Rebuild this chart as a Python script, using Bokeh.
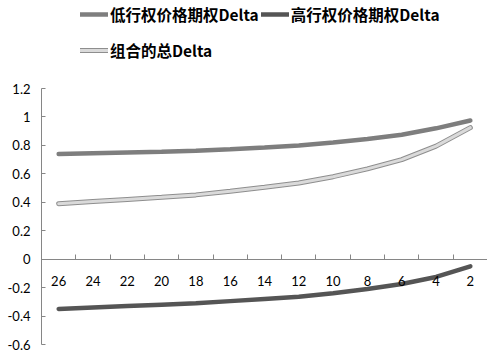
from bokeh.plotting import figure
from bokeh.models import (Range1d, LinearAxis, FixedTicker, Legend, LegendItem,
                          CustomJSTickFormatter)
from bokeh.embed import file_html
from bokeh.resources import INLINE

categories = ["26", "24", "22", "20", "18", "16", "14", "12", "10", "8", "6", "4", "2"]
low_delta = [0.74, 0.745, 0.75, 0.755, 0.762, 0.772, 0.785, 0.80, 0.82, 0.845, 0.875, 0.92, 0.975]
high_delta = [-0.35, -0.34, -0.33, -0.32, -0.31, -0.295, -0.28, -0.265, -0.24, -0.21, -0.175, -0.125, -0.05]
total_delta = [0.39, 0.405, 0.42, 0.435, 0.452, 0.477, 0.505, 0.535, 0.58, 0.635, 0.70, 0.795, 0.925]
y_ticks = [-0.6, -0.4, -0.2, 0, 0.2, 0.4, 0.6, 0.8, 1.0, 1.2]
series_names = ["低行权价格期权Delta", "高行权价格期权Delta", "组合的总Delta"]

x = list(range(len(categories)))
n = len(categories)

AXIS_COLOR = "#868686"
TICK_FONT = "Lato"

# layout (pixels): the plotting area of the axes spans 256 px vertically, the legend
# occupies the 88 px above it inside the same frame
W, H = 487, 361
AXIS_PX, TOP_PX, BOTTOM_PX, LEFT_PX = 256, 88, 17, 41
y_lo, y_hi = y_ticks[0], y_ticks[-1]
y_top = y_hi + (y_hi - y_lo) * TOP_PX / AXIS_PX

p = figure(width=W, height=H, output_backend="svg", toolbar_location=None,
           x_range=Range1d(-0.5, n - 0.5), y_range=Range1d(y_lo, y_top),
           x_axis_location=None,
           min_border_left=LEFT_PX, min_border_right=0, min_border_top=0,
           min_border_bottom=BOTTOM_PX)
p.outline_line_color = None
p.grid.grid_line_color = None
p.background_fill_color = "white"
p.border_fill_color = "white"

# y axis
ya = p.yaxis[0]
ya.bounds = (y_lo, y_hi)
ya.ticker = FixedTicker(ticks=y_ticks)
ya.formatter = CustomJSTickFormatter(code="return String(Math.round(tick*10)/10)")
ya.axis_line_color = AXIS_COLOR
ya.major_tick_line_color = AXIS_COLOR
ya.major_tick_in = 4
ya.major_tick_out = 0
ya.minor_tick_line_color = None
ya.major_label_text_font = TICK_FONT
ya.major_label_text_font_size = "13px"
ya.major_label_text_color = "#000000"
ya.major_label_standoff = 11

# x axis: line and ticks between categories, crossing at y = 0
tick_axis = LinearAxis(fixed_location=0,
                       ticker=FixedTicker(ticks=[i + 0.5 for i in range(n - 1)]),
                       formatter=CustomJSTickFormatter(code="return ''"),
                       axis_line_color=AXIS_COLOR, major_tick_line_color=AXIS_COLOR,
                       major_tick_in=5, major_tick_out=0, minor_tick_line_color=None)
p.add_layout(tick_axis, "below")

label_axis = LinearAxis(fixed_location=0, ticker=FixedTicker(ticks=x),
                        major_label_overrides={i: c for i, c in zip(x, categories)},
                        axis_line_color=None, major_tick_line_color=None,
                        major_tick_in=0, major_tick_out=0, minor_tick_line_color=None,
                        major_label_standoff=17,
                        major_label_text_font=TICK_FONT,
                        major_label_text_font_size="13px",
                        major_label_text_color="#000000")
p.add_layout(label_axis, "below")

r_low = p.line(x, low_delta, line_color="#7e7e7e", line_width=4.5, line_cap="round")
r_high = p.line(x, high_delta, line_color="#555555", line_width=4.5, line_cap="round")
r_tot_edge = p.line(x, total_delta, line_color="#8e8e8e", line_width=5, line_cap="round")
r_tot = p.line(x, total_delta, line_color="#dadada", line_width=3, line_cap="round")

legend = Legend(items=[LegendItem(label=series_names[0], renderers=[r_low]),
                       LegendItem(label=series_names[1], renderers=[r_high]),
                       LegendItem(label=series_names[2], renderers=[r_tot_edge, r_tot])],
                orientation="horizontal", ncols=2,
                location=(39, 277),
                background_fill_alpha=0, border_line_color=None,
                padding=0, margin=0, spacing=2,
                glyph_width=28, glyph_height=34, label_height=34, label_standoff=2,
                label_text_font="Noto Sans CJK SC", label_text_font_style="bold",
                label_text_font_size="15.5px", label_text_color="#000000")
p.add_layout(legend, "center")

open("out.html", "w").write(file_html(p, INLINE))
